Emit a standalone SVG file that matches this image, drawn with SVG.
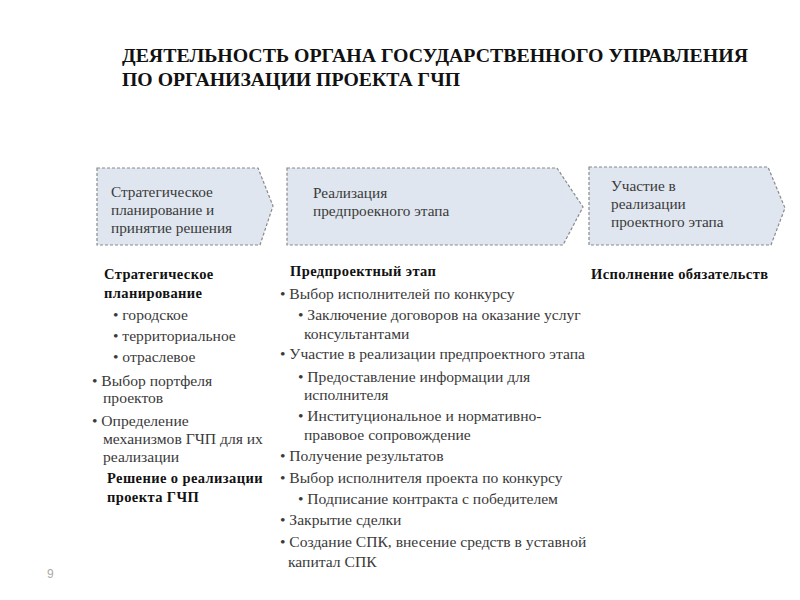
<svg xmlns="http://www.w3.org/2000/svg" width="800" height="600" viewBox="0 0 800 600">
<style>
.title{font-family:"Liberation Serif","Times New Roman",serif;font-weight:bold;font-size:19px;fill:#111}
.box{fill:#dfe6ef;stroke:#8a8a8a;stroke-width:1.2;stroke-dasharray:3 2}
.bt{font-family:"Liberation Serif","Times New Roman",serif;font-size:15.3px;fill:#3a3a3a}
.t{font-family:"Liberation Serif","Times New Roman",serif;font-size:15.6px;fill:#3a3a3a}
.b{font-family:"Liberation Serif","Times New Roman",serif;font-size:14.5px;font-weight:bold;fill:#111;letter-spacing:0.4px}
.pg{font-family:"Liberation Sans",Arial,sans-serif;font-size:12px;fill:#aaa}
</style>
<rect width="800" height="600" fill="#fff"/>
<g id="title">
<text class="title" x="122" y="62" textLength="626" lengthAdjust="spacingAndGlyphs">ДЕЯТЕЛЬНОСТЬ ОРГАНА ГОСУДАРСТВЕННОГО УПРАВЛЕНИЯ</text>
<text class="title" x="122" y="86" textLength="338" lengthAdjust="spacingAndGlyphs">ПО ОРГАНИЗАЦИИ ПРОЕКТА ГЧП</text>
</g>
<g id="connectors"></g>
<g id="stage1">
<path class="box" d="M97,168 H258 L273,206 L260,245 H97 Z"/>
<text class="bt" x="111" y="197">Стратегическое</text>
<text class="bt" x="111" y="215">планирование и</text>
<text class="bt" x="111" y="233">принятие решения</text>
</g>
<g id="stage2">
<path class="box" d="M287,168 H557 L583,207 L563,245 H287 Z"/>
<text class="bt" x="313" y="198">Реализация</text>
<text class="bt" x="313" y="216">предпроекного этапа</text>
</g>
<g id="stage3">
<path class="box" d="M589,167 H768 L785,208 L771,245 H589 Z"/>
<text class="bt" x="611" y="191">Участие в</text>
<text class="bt" x="611" y="209">реализации</text>
<text class="bt" x="611" y="227">проектного этапа</text>
</g>
<g id="list1">
<text class="b" x="104" y="279">Стратегическое</text>
<text class="b" x="104" y="298">планирование</text>
<text class="t" x="113" y="320">• городское</text>
<text class="t" x="113" y="341">• территориальное</text>
<text class="t" x="113" y="362">• отраслевое</text>
<text class="t" x="92" y="386">• Выбор портфеля</text>
<text class="t" x="103" y="403">проектов</text>
<text class="t" x="92" y="426">• Определение</text>
<text class="t" x="103" y="444">механизмов ГЧП для их</text>
<text class="t" x="103" y="462">реализации</text>
<text class="b" x="107" y="483">Решение о реализации</text>
<text class="b" x="107" y="502">проекта ГЧП</text>
</g>
<g id="list2">
<text class="b" x="290" y="276">Предпроектный этап</text>
<text class="t" x="280" y="299">• Выбор исполнителей по конкурсу</text>
<text class="t" x="298" y="320">• Заключение договоров на оказание услуг</text>
<text class="t" x="304" y="339">консультантами</text>
<text class="t" x="280" y="359">• Участие в реализации предпроектного этапа</text>
<text class="t" x="298" y="382">• Предоставление информации для</text>
<text class="t" x="304" y="400">исполнителя</text>
<text class="t" x="298" y="421">• Институциональное и нормативно-</text>
<text class="t" x="304" y="440">правовое сопровождение</text>
<text class="t" x="280" y="461">• Получение результатов</text>
<text class="t" x="280" y="483">• Выбор исполнителя проекта по конкурсу</text>
<text class="t" x="298" y="504">• Подписание контракта с победителем</text>
<text class="t" x="280" y="525">• Закрытие сделки</text>
<text class="t" x="280" y="547">• Создание СПК, внесение средств в уставной</text>
<text class="t" x="288" y="567">капитал СПК</text>
</g>
<g id="list3">
<text class="b" x="591" y="279">Исполнение обязательств</text>
</g>
<text class="pg" x="47" y="578">9</text>
</svg>
